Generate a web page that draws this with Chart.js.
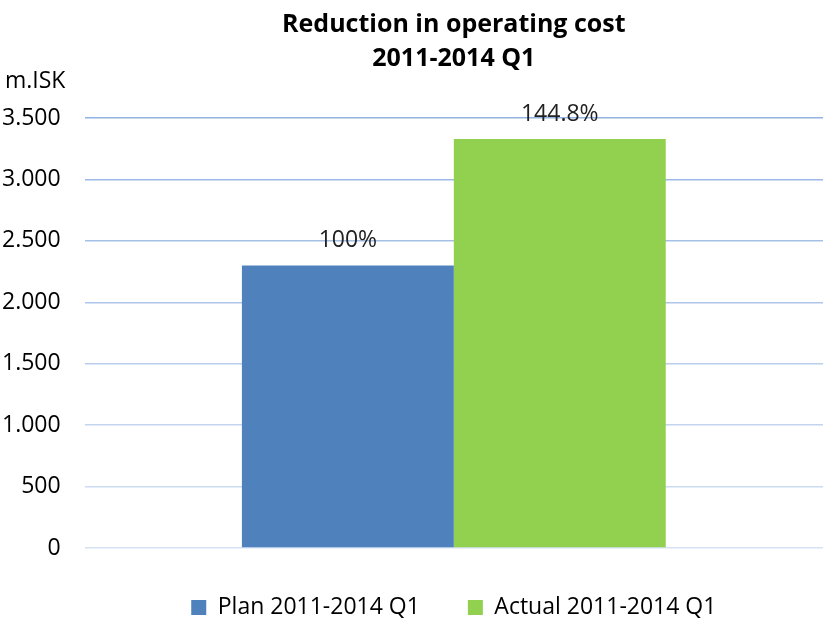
<!DOCTYPE html>
<html>
<head>
<meta charset="utf-8">
<script src="https://cdn.jsdelivr.net/npm/chart.js@4.4.1/dist/chart.umd.min.js"></script>
<style>
  html, body { margin: 0; padding: 0; background: #fff; }
  #wrap { width: 827px; height: 627px; }
</style>
</head>
<body>
<div id="wrap"><canvas id="costChart"></canvas></div>
<script>
// chart data
const categories = [''];
const seriesNames = ['Plan 2011-2014 Q1', 'Actual 2011-2014 Q1'];
const planValues = [2300];
const actualValues = [3330];
const pctLabels = ['100%', '144.8%'];
const yTicks = [0, 500, 1000, 1500, 2000, 2500, 3000, 3500];
const titleLines = ['Reduction in operating cost', '2011-2014 Q1'];
const unitLabel = 'm.ISK';

const FONT = "'Open Sans', 'Liberation Sans', sans-serif";

// thousands separated with a dot
const fmt = (v) => String(v).replace(/\B(?=(\d{3})+(?!\d))/g, '.');

// grid gets lighter towards the bottom
const gridColor = (ctx) => {
  const v = ctx.tick ? ctx.tick.value : 0;
  const t = v / 3500;
  const a = [214, 226, 244], b = [146, 178, 226];
  const c = a.map((x, i) => Math.round(x + (b[i] - x) * t));
  return 'rgb(' + c.join(',') + ')';
};

const extras = {
  id: 'extras',
  afterDatasetsDraw(chart) {
    const ctx = chart.ctx;
    ctx.save();
    ctx.font = '23px ' + FONT;
    ctx.fillStyle = '#222';
    ctx.textAlign = 'center';
    ctx.textBaseline = 'alphabetic';
    chart.data.datasets.forEach((ds, i) => {
      const bar = chart.getDatasetMeta(i).data[0];
      ctx.fillText(pctLabels[i], bar.x, bar.y - 18);
    });
    // unit label at top-left
    ctx.textAlign = 'left';
    ctx.fillStyle = '#000';
    ctx.fillText(unitLabel, 5, 88);
    ctx.restore();
  }
};

new Chart(document.getElementById('costChart'), {
  type: 'bar',
  data: {
    labels: categories,
    datasets: [
      { label: seriesNames[0], data: planValues, backgroundColor: '#4F81BD' },
      { label: seriesNames[1], data: actualValues, backgroundColor: '#92D050' }
    ]
  },
  options: {
    responsive: true,
    maintainAspectRatio: false,
    animation: false,
    layout: { padding: { left: -22, right: 4, top: 4, bottom: -2 } },
    datasets: { bar: { categoryPercentage: 0.574, barPercentage: 1.0 } },
    scales: {
      x: { display: false },
      y: {
        min: 0,
        max: 3500,
        afterBuildTicks: (axis) => { axis.ticks = yTicks.map(v => ({ value: v })); },
        border: { display: false },
        grid: { color: gridColor, lineWidth: 1.5, drawTicks: false },
        ticks: {
          padding: 24,
          color: '#000',
          font: { family: FONT, size: 23 },
          callback: (v) => fmt(v)
        }
      }
    },
    plugins: {
      tooltip: { enabled: false },
      title: {
        display: true,
        fullSize: false,
        text: titleLines,
        color: '#000',
        font: { family: FONT, size: 25, weight: 'bold', lineHeight: 1.36 },
        padding: { top: 4, bottom: 42 }
      },
      legend: {
        position: 'bottom',
        fullSize: false,
        labels: {
          boxWidth: 15,
          boxHeight: 15,
          padding: 48,
          color: '#000',
          font: { family: FONT, size: 23 }
        }
      }
    }
  },
  plugins: [extras]
});
</script>
</body>
</html>
